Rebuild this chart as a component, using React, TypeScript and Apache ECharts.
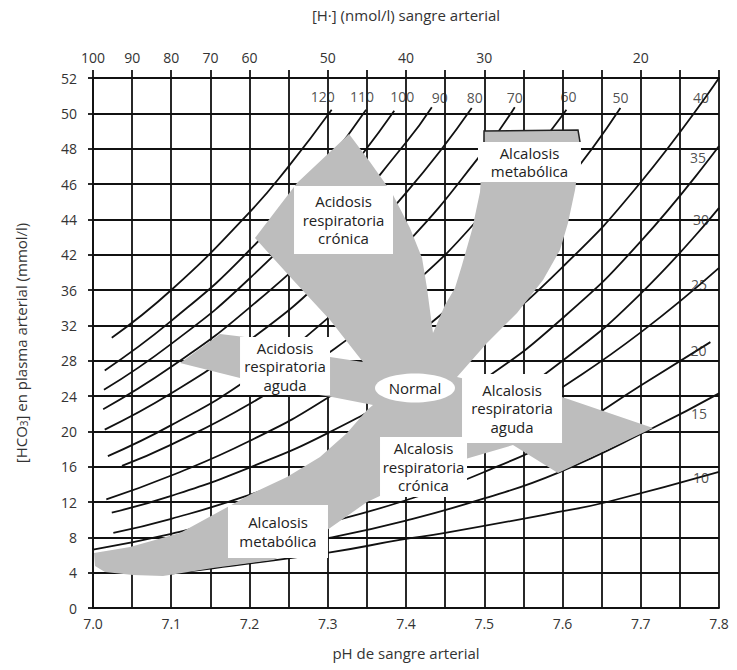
import { useEffect, useRef } from 'react';
import * as echarts from 'echarts';

const FONT = "'Open Sans', 'Noto Sans', sans-serif";

// ---- axes ----
const phMin = 7.0;
const phMax = 7.8;
const yTickLabels = ['0', '4', '8', '12', '16', '20', '24', '28', '32', '36', '42', '44', '46', '48', '50', '52'];
const topTickPh = [7.0, 7.05, 7.1, 7.15, 7.2, 7.3, 7.4, 7.5, 7.7];
const topTickH = ['100', '90', '80', '70', '60', '50', '40', '30', '20'];

// ---- PCO2 isopleths [pH, HCO3] ----
const c120 = [[7.024, 30.6], [7.1, 36.0], [7.2, 44.8], [7.25, 50.0], [7.305, 56.4]];
const c110 = [[7.015, 26.9], [7.1, 32.5], [7.2, 40.5], [7.3, 50.6], [7.349, 56.4]];
const c100 = [[7.014, 24.7], [7.1, 29.9], [7.2, 37.3], [7.3, 46.6], [7.385, 56.3]];
const c90 = [[7.013, 22.5], [7.1, 27.3], [7.2, 34.0], [7.3, 42.3], [7.4, 52.7], [7.433, 56.7]];
const c80 = [[7.015, 20.2], [7.1, 24.3], [7.2, 30.3], [7.3, 37.7], [7.4, 47.0], [7.484, 56.6]];
const c70 = [[7.019, 17.2], [7.1, 20.7], [7.2, 26.0], [7.3, 32.8], [7.4, 41.2], [7.5, 51.8], [7.539, 56.7]];
const c60 = [[7.037, 16.1], [7.1, 18.5], [7.2, 23.1], [7.3, 28.8], [7.4, 35.9], [7.5, 44.8], [7.605, 56.4]];
const c50 = [[7.017, 12.3], [7.1, 15.0], [7.2, 18.9], [7.3, 23.8], [7.4, 30.0], [7.5, 37.9], [7.6, 47.7], [7.674, 56.6]];
const c40 = [[7.024, 10.8], [7.1, 12.7], [7.2, 15.9], [7.3, 19.8], [7.4, 24.8], [7.5, 30.9], [7.6, 38.6], [7.7, 48.2], [7.8, 60.0]];
const c35 = [[7.026, 8.5], [7.1, 10.1], [7.2, 12.8], [7.3, 16.2], [7.4, 20.5], [7.5, 25.9], [7.6, 32.8], [7.7, 41.5], [7.8, 52.3]];
const c30 = [[7.0, 6.6], [7.1, 8.4], [7.2, 10.7], [7.3, 13.6], [7.4, 17.3], [7.5, 22.0], [7.6, 28.0], [7.7, 35.6], [7.8, 45.3]];
const c25 = [[7.05, 6.6], [7.1, 7.6], [7.2, 9.6], [7.3, 12.1], [7.4, 15.2], [7.5, 19.4], [7.6, 25.0], [7.7, 31.2], [7.8, 38.5]];
const c20 = [[7.03, 5.1], [7.1, 6.1], [7.2, 7.7], [7.3, 9.7], [7.4, 12.2], [7.5, 15.4], [7.6, 19.6], [7.7, 25.2], [7.789, 30.1]];
const c15 = [[7.05, 4.5], [7.1, 5.0], [7.2, 6.3], [7.3, 7.9], [7.4, 9.9], [7.5, 12.4], [7.594, 15.3], [7.716, 20.4], [7.8, 24.3]];
const c10 = [[7.1, 3.9], [7.153, 4.5], [7.303, 6.3], [7.392, 7.7], [7.45, 8.5], [7.597, 10.9], [7.657, 12.0], [7.8, 15.4]];

const pco2Names = ['120', '110', '100', '90', '80', '70', '60', '50', '40', '35', '30', '25', '20', '15', '10'];
const pco2Curves = [c120, c110, c100, c90, c80, c70, c60, c50, c40, c35, c30, c25, c20, c15, c10];

// ---- shaded band outline [pH, HCO3] ----
const bandOutline = [
  [7.3272, 53.66], [7.354, 50.49], [7.3821, 46.98], [7.4051, 43.02], [7.4205, 39.62], [7.4268, 36.23],
  [7.4345, 31.13], [7.4498, 34.3], [7.4626, 36.23], [7.4716, 38.83], [7.4843, 42.79], [7.4946, 47.09],
  [7.4971, 50.72], [7.4997, 54.0], [7.6198, 54.11], [7.6224, 52.75], [7.6198, 49.58], [7.616, 47.32],
  [7.607, 43.58], [7.5968, 40.53], [7.5751, 37.13], [7.5419, 33.4], [7.5035, 30.0], [7.4652, 26.15],
  [7.5457, 24.45], [7.5994, 23.89], [7.7157, 20.38], [7.5942, 15.28], [7.5367, 18.45], [7.4716, 16.75],
  [7.4435, 13.36], [7.3693, 12.79], [7.3502, 12.0], [7.3029, 9.06], [7.2645, 6.79], [7.23, 5.43],
  [7.1534, 4.53], [7.0895, 3.62], [7.0511, 3.74], [7.0153, 4.08], [7.0026, 4.75], [7.0013, 6.23],
  [7.0473, 6.91], [7.1112, 8.49], [7.1649, 11.09], [7.2045, 13.02], [7.2479, 14.83], [7.2901, 17.09],
  [7.3246, 19.81], [7.3502, 22.42], [7.3578, 22.98], [7.3054, 23.89], [7.2645, 24.45], [7.1879, 26.04],
  [7.1112, 27.74], [7.1623, 31.02], [7.1942, 30.68], [7.2645, 29.21], [7.3029, 28.42], [7.345, 27.85],
  [7.3029, 32.6], [7.2556, 37.13], [7.207, 41.89], [7.2607, 48.11],
];
// dark outline along the top of the upper-right arm
const bandTopEdge = [[7.4997, 52.75], [7.4997, 54.0], [7.6198, 54.11], [7.6224, 52.75]];

// ---- region labels: [pH left, HCO3 top, pH right, HCO3 bottom] ----
const regionBoxes = [
  [7.2569, 47.77, 7.3834, 40.08],
  [7.492, 52.75, 7.6236, 48.23],
  [7.1879, 30.68, 7.3029, 24.11],
  [7.4716, 26.49, 7.5994, 18.68],
  [7.3668, 19.36, 7.478, 12.57],
  [7.1725, 11.66, 7.3003, 5.66],
];
const regionTexts = [
  'Acidosis\nrespiratoria\ncrónica',
  'Alcalosis\nmetabólica',
  'Acidosis\nrespiratoria\naguda',
  'Alcalosis\nrespiratoria\naguda',
  'Alcalosis\nrespiratoria\ncrónica',
  'Alcalosis\nmetabólica',
];
// [pH centre, HCO3 centre, pH half-width, HCO3 half-height]
const normalRegion = [7.4115, 24.91, 0.0511, 1.64];
const normalText = 'Normal';

const labelOffsets = [
  [-9, -13], [-4, -13], [8, -14], [8, -10], [3, -11], [0, -10], [2, -13], [0, -11],
  [-18, 19], [-21, 11], [-18, 12], [-20, 17], [-12, 8], [-20, 20], [-18, 6],
];

const INK = '#111';
const TXT = '#333';

export default function App() {
  const ref = useRef<HTMLDivElement>(null);
  useEffect(() => {
    if (!ref.current) return;
    const chart = echarts.init(ref.current, undefined, { renderer: 'svg' });
    const lineSeries = pco2Curves.map((d, i) => ({
      name: pco2Names[i],
      type: 'line',
      data: d,
      smooth: true,
      symbol: 'none',
      z: 2,
      lineStyle: { color: INK, width: 1.8 },
      silent: true,
    }));
    const option: any = {
      animation: false,
      grid: { left: 93, top: 78, width: 626, height: 530 },
      xAxis: [
        {
          type: 'value', position: 'bottom', min: phMin, max: phMax, interval: 0.05,
          axisLine: { show: true, lineStyle: { color: INK, width: 1.8 } },
          axisTick: { show: false },
          axisLabel: {
            color: TXT, fontSize: 14, fontFamily: FONT, margin: 8,
            formatter: (v: number) => { const k = Math.round(v * 100); return k % 10 === 0 ? (k / 100).toFixed(1) : ''; },
          },
          splitLine: { show: true, lineStyle: { color: INK, width: 1.8 } },
          name: 'pH de sangre arterial', nameLocation: 'middle', nameGap: 37,
          nameTextStyle: { color: TXT, fontSize: 15, fontFamily: FONT },
        },
        {
          type: 'value', position: 'top', min: phMin, max: phMax, interval: 0.05,
          axisLine: { show: true, lineStyle: { color: INK, width: 1.8 } },
          axisTick: { show: true, length: 8, lineStyle: { color: INK, width: 1.8 } },
          axisLabel: {
            color: TXT, fontSize: 14, fontFamily: FONT, margin: 14,
            formatter: (v: number) => {
              const i = topTickPh.findIndex((p) => Math.abs(p - v) < 1e-6);
              return i >= 0 ? topTickH[i] : '';
            },
          },
          splitLine: { show: false },
          name: '[H·] (nmol/l) sangre arterial', nameLocation: 'middle', nameGap: 56,
          nameTextStyle: { color: TXT, fontSize: 15, fontFamily: FONT },
        },
      ],
      yAxis: {
        type: 'value', min: 0, max: 60, interval: 4,
        axisLine: { show: true, lineStyle: { color: INK, width: 1.8 } },
        axisTick: { show: true, length: 5, lineStyle: { color: INK, width: 1.8 } },
        axisLabel: {
          color: TXT, fontSize: 14, fontFamily: FONT, margin: 16,
          formatter: (v: number) => yTickLabels[Math.round(v / 4)] ?? '',
        },
        splitLine: { show: true, lineStyle: { color: INK, width: 1.8 } },
        name: '[HCO{s|3}] en plasma arterial (mmol/l)', nameLocation: 'middle', nameGap: 64, nameRotate: 90,
        nameTextStyle: {
          color: TXT, fontSize: 15, fontFamily: FONT,
          rich: { s: { fontSize: 10, fontFamily: FONT, color: TXT, padding: [7, 0, 0, 0] } },
        },
      },
      series: [
        ...lineSeries,
        {
          type: 'custom', name: 'band', z: 5, silent: true,
          data: [[7.4, 30]],
          renderItem: (_p: any, api: any) => ({
            type: 'group',
            children: [
              {
                type: 'polygon',
                shape: { points: bandOutline.map((pt) => api.coord(pt)) },
                style: { fill: '#bdbdbd' },
              },
              {
                type: 'polyline',
                shape: { points: bandTopEdge.map((pt) => api.coord(pt)) },
                style: { stroke: '#222', lineWidth: 1.5, fill: null },
              },
            ],
          }),
        },
        {
          type: 'custom', name: 'regions', z: 6, silent: true,
          data: regionBoxes,
          encode: { x: [0, 2], y: [1, 3] },
          renderItem: (params: any, api: any) => {
            const p0 = api.coord([api.value(0), api.value(1)]);
            const p1 = api.coord([api.value(2), api.value(3)]);
            return {
              type: 'group',
              children: [
                { type: 'rect', shape: { x: p0[0], y: p0[1], width: p1[0] - p0[0], height: p1[1] - p0[1] }, style: { fill: '#fff' } },
                {
                  type: 'text',
                  style: {
                    text: regionTexts[params.dataIndex], x: (p0[0] + p1[0]) / 2, y: (p0[1] + p1[1]) / 2,
                    align: 'center', verticalAlign: 'middle', fontSize: 15, lineHeight: 18.5,
                    fontFamily: FONT, fill: '#222',
                  },
                },
              ],
            };
          },
        },
        {
          type: 'custom', name: 'normal', z: 6, silent: true,
          data: [normalRegion],
          renderItem: (_p: any, api: any) => {
            const c = api.coord([api.value(0), api.value(1)]);
            const s = api.size([api.value(2), api.value(3)]);
            return {
              type: 'group',
              children: [
                { type: 'ellipse', shape: { cx: c[0], cy: c[1], rx: s[0], ry: s[1] }, style: { fill: '#fff' } },
                {
                  type: 'text',
                  style: { text: normalText, x: c[0], y: c[1], align: 'center', verticalAlign: 'middle', fontSize: 15, fontFamily: FONT, fill: '#222' },
                },
              ],
            };
          },
        },
        {
          type: 'scatter', name: 'pco2Labels', z: 8, silent: true,
          symbolSize: 1, itemStyle: { color: 'rgba(0,0,0,0)' },
          data: pco2Curves.map((d, i) => ({
            value: d[d.length - 1],
            label: { offset: labelOffsets[i] },
          })),
          label: {
            show: true, position: 'inside', color: '#222', fontSize: 14, fontFamily: FONT,
            formatter: (p: any) => pco2Names[p.dataIndex],
          },
        },
      ],
    };
    chart.setOption(option);
    return () => chart.dispose();
  }, []);
  return <div ref={ref} style={{ position: 'fixed', left: 0, top: 0, width: 737, height: 670, background: '#fff' }} />;
}
